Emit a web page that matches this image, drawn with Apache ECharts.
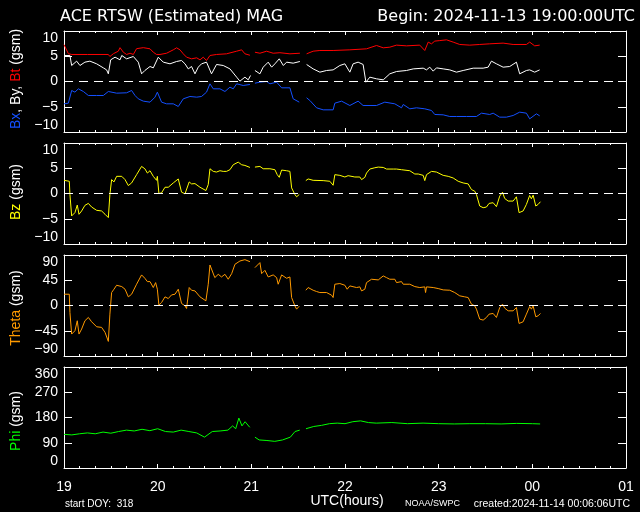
<!DOCTYPE html>
<html><head><meta charset="utf-8">
<script src="https://cdn.jsdelivr.net/npm/echarts@6/dist/echarts.min.js"></script>
<style>html,body{margin:0;padding:0;background:#000}#c{width:640px;height:512px}</style>
</head><body><div id="c"></div><script>
// time in minutes after 19:00 UTC, values in nT / degrees; null = data gap
const hourLabels = ['19','20','21','22','23','00','01'];
const bt = [[0,7.3],[2.8,5.5],[5,5.35],[15,5.35],[25,5.35],[28.4,5.35],[29.4,4.95],[31.6,5.5],[34.8,6.0],[35.9,6.7],[38,5.8],[40.1,5.35],[42.3,5.6],[44.4,5.35],[46.5,6.5],[50.8,6.7],[55.1,6.47],[57.2,5.8],[59.3,5.35],[61.5,5.35],[65.7,5.6],[70,6.27],[72.1,6.67],[74.3,6.27],[76.4,5.48],[78.5,4.82],[81.7,4.49],[85,4.69],[87.1,4.29],[89.2,4.82],[91.3,4.16],[93.5,5.15],[97.7,5.35],[104.1,5.48],[110.6,6.0],[113.8,6.27],[115.9,5.48],[119.1,5.2],[121,null],[122.3,5.8],[125.5,5.6],[129.8,6.0],[134,5.6],[138.3,5.7],[144.7,5.48],[151.1,5.6],[153,null],[155.4,5.48],[159.6,6.0],[163.9,6.14],[172.4,6.14],[183.1,6.27],[193.8,6.47],[200.2,7.13],[204.5,6.67],[208.7,6.8],[213,7.2],[219.4,7.06],[227.9,7.2],[231.1,6.14],[233.3,7.8],[235.4,7.46],[237.5,8.0],[240.7,8.1],[245,8.25],[249.3,7.8],[253.5,7.33],[259.9,7.2],[266.3,7.33],[272.7,7.46],[281.3,7.6],[287.7,7.33],[296.2,7.33],[298.3,7.8],[301.5,7.06],[304.7,7.2]];
const by = [[0,5.15],[3.8,5.15],[4.9,3.17],[8.1,4.03],[10.2,3.17],[13.4,3.83],[16.6,4.03],[20.9,3.5],[25.2,2.7],[27.3,2.3],[28.4,1.52],[29.9,4.29],[32.7,4.82],[35.9,4.29],[37,5.15],[40.1,4.49],[44.4,4.95],[47.6,3.83],[49.7,1.52],[51.8,2.18],[55.1,2.97],[57.2,2.7],[60.4,4.82],[63.6,3.83],[67.9,3.5],[72.1,3.96],[75.3,4.16],[77.5,3.5],[79.6,2.5],[81.7,2.97],[83.9,1.52],[86,2.84],[88.1,3.5],[91.3,3.83],[94.5,1.52],[97.7,3.37],[102,3.17],[106.3,2.5],[110.6,0.86],[112.7,0.07],[115.9,0.86],[118,0.33],[119.5,1.19],[121,null],[122.3,2.18],[125.5,1.52],[127.6,2.84],[130.8,3.83],[133,2.84],[135.1,3.5],[137.9,4.49],[140.5,3.17],[142.6,3.83],[146.8,3.63],[151.1,3.96],[153,null],[155.4,3.37],[159.6,2.5],[163.9,1.85],[168.2,2.18],[172.4,2.3],[176.7,3.17],[179.9,3.5],[183.1,1.85],[185.2,3.5],[188.4,3.83],[191.6,3.37],[193.4,-0.13],[195.9,0.86],[200.2,0.53],[204.5,0.33],[208.7,1.52],[213,1.98],[219.4,2.18],[223.7,2.5],[230.1,2.64],[232.2,2.3],[234.3,2.84],[236.5,2.05],[238.6,2.7],[242.9,2.5],[247.1,2.3],[251.4,1.85],[255.7,2.18],[262.1,2.64],[268.5,2.64],[271.7,2.84],[273.8,4.03],[277,3.5],[281.3,2.84],[285.5,2.97],[289.8,3.83],[291.9,1.52],[296.2,2.18],[298.3,2.3],[301.5,1.85],[304.7,2.3]];
const bx = [[0,-4.42],[2.8,-4.29],[4.9,-1.78],[7,-2.11],[9.2,-1.45],[12.4,-1.98],[15.6,-2.77],[20.9,-2.77],[25.2,-2.77],[28.4,-1.98],[33.7,-2.31],[40.1,-2.24],[43.3,-1.78],[45.5,-2.77],[47.6,-3.43],[50.8,-3.89],[55.1,-4.09],[58.3,-3.1],[59.8,-2.11],[62.5,-4.09],[65.7,-4.42],[70,-4.42],[73.2,-4.95],[76.4,-3.43],[80.7,-2.97],[85,-3.1],[88.1,-2.97],[91.3,-2.11],[93.5,-0.46],[95.6,-1.45],[99.9,-1.45],[103.1,-1.98],[106.3,-1.12],[108.4,-1.45],[110.6,-0.46],[114.8,-0.79],[119.1,-0.59],[121,null],[122.3,-0.33],[125.5,-0.13],[129.8,0],[131.9,-0.46],[136.2,-0.13],[139.4,-1.25],[144.7,-1.25],[146.8,-3.43],[150.7,-4.09],[153,null],[155.4,-3.23],[157.5,-3.76],[161.8,-5.21],[166,-5.61],[172.4,-5.61],[173.5,-4.29],[177.8,-3.89],[183.1,-4.75],[188.4,-3.89],[191.6,-4.75],[200.2,-4.75],[205.5,-4.09],[211.9,-4.42],[216.2,-5.21],[217.3,-4.55],[221.5,-5.41],[225.8,-5.21],[231.1,-5.41],[235.4,-5.74],[237.5,-6.53],[242.9,-6.6],[247.1,-6.93],[251.4,-6.93],[257.8,-6.93],[264.2,-6.93],[267.4,-6.27],[272.7,-6.53],[274.9,-6.27],[279.1,-7.06],[283.4,-7.06],[287.7,-6.73],[291.9,-6.07],[296.2,-6.27],[298.3,-7.39],[302.6,-6.4],[304.7,-6.8]];
const bz = [[0,2.61],[3.4,2.42],[3.8,-0.2],[4.9,-4.44],[6,-4.64],[7,-3.79],[8.5,-2.29],[9.6,-4.12],[11.3,-3.46],[13.4,-2.35],[15.6,-1.96],[17.7,-2.68],[20.9,-3.33],[24.1,-3.46],[26.3,-4.12],[28.4,-4.77],[29.4,-0.2],[30.5,2.75],[32,2.29],[33.7,3.4],[37,3.4],[39.1,2.75],[41.2,1.57],[43.3,2.09],[46.5,3.73],[49.7,5.36],[51.8,4.9],[53.4,4.05],[55.1,4.51],[57.2,3.4],[58.3,3.59],[59.3,2.61],[59.8,3.4],[60.8,0],[62.5,0.13],[64.7,1.24],[66.8,1.24],[67.9,0.92],[70,2.09],[73.2,2.88],[75.3,0.26],[77.5,-0.07],[78.5,-0.39],[80.2,2.29],[81.7,1.9],[83.9,1.96],[87.1,1.24],[90.9,0.59],[92.4,1.76],[93.5,4.9],[95.6,4.38],[97.7,4.25],[99.9,4.51],[102,4.38],[104.1,4.38],[106.3,4.71],[108.4,5.69],[111.6,6.21],[113.8,5.69],[115.9,5.56],[119.1,5.16],[121,null],[122.3,5.23],[125.5,5.36],[127.6,4.9],[131.9,4.9],[135.1,4.71],[136.6,3.73],[137.9,3.2],[139.4,4.64],[142.6,4.51],[144.7,4.38],[145.8,1.11],[147.9,-0.2],[149,-0.65],[150.7,-0.2],[153,null],[154.9,2.55],[156.4,2.88],[159.6,2.61],[166,2.55],[170.3,2.42],[172.4,1.63],[173.5,3.73],[176.7,3.59],[179.9,3.27],[182,3.53],[183.1,3.59],[186.3,3.27],[189.5,3.27],[190.6,2.75],[192.7,3.2],[193.8,4.05],[195.9,4.84],[199.1,5.1],[201.3,5.23],[204.5,5.16],[206.6,4.84],[210.9,4.84],[211.9,5.16],[213,4.84],[216.2,4.71],[217.3,4.38],[221.5,4.51],[224.7,3.86],[226.9,3.86],[230.1,3.59],[231.1,2.55],[232.2,3.73],[235.4,4.38],[238.6,4.25],[242.9,3.59],[246.1,3.4],[249.3,3.07],[252.5,2.42],[255.7,2.09],[258.9,1.9],[261,0.78],[263.1,0.46],[264.2,-0.2],[266.3,-2.48],[268.5,-2.81],[270.6,-2.68],[272.3,-1.96],[274.9,-1.83],[277,-2.61],[279.1,-0.52],[280.9,0.26],[282.3,-0.98],[284.5,-1.5],[287.7,-1.5],[289.8,-0.65],[291.5,-3.79],[294.1,-3.46],[296.2,-2.16],[298.3,-0.39],[299.4,-1.05],[300.5,-0.33],[302.2,-2.48],[303.7,-2.16],[305.2,-1.63]];
const theta = [[0,20.1],[3.4,20.1],[3.8,-12.4],[4.9,-50.9],[6,-53.9],[7,-45],[8.5,-27.2],[9.6,-50.9],[11.3,-42],[13.4,-27.2],[15.6,-21.3],[17.7,-29],[20.9,-37.9],[24.1,-39],[26.3,-48],[28.4,-64],[29.4,-15.4],[30.5,23.1],[32,29],[33.7,36.1],[37,33.7],[38,34.9],[39.1,29],[41.2,15.4],[43.3,20.1],[46.5,37.9],[49.7,54.5],[51.8,48.5],[53.4,42.6],[55.1,42.6],[57.2,32],[58.7,40.8],[59.8,29],[60.8,0.6],[62.5,5.3],[64.7,15.4],[66.8,12.4],[68.9,18.9],[71.1,20.1],[73.2,29],[75.3,3.6],[77.5,-0.6],[78.5,-5.3],[80.2,32],[81.7,27.2],[83.9,26],[87.1,15.4],[90.9,8.3],[92.4,37.9],[93.5,72.2],[94.5,70.4],[96.6,49.7],[98.8,55.6],[100.9,50.9],[103.1,55.6],[105.2,46.8],[107.4,56.8],[109.5,73.4],[112.7,79.3],[115.9,81.7],[119.1,78.1],[121,null],[122.3,67.5],[125.5,76.4],[126.6,56.8],[128.7,62.7],[130.8,50.9],[134,54.5],[136.2,49.7],[137.2,37.9],[138.3,37.9],[139.4,54.5],[142.6,48.5],[144.7,50.9],[145.8,14.2],[147.9,-0.6],[149,-6.5],[150.7,-1.2],[153,null],[154.9,27.2],[156.4,32],[159.6,27.2],[161.8,24.9],[163.9,23.1],[168.2,23.1],[171.4,18.4],[172.4,14.2],[173.5,37.9],[176.7,39.1],[179.9,36.1],[181.4,29],[183.1,34.9],[187.4,32],[189.5,33.2],[190.6,26],[192.7,29],[193.8,40.8],[197,46.8],[201.3,45.6],[204.5,52.7],[206.6,49.7],[208.7,46.8],[211.9,46.8],[213,40.8],[216.2,42.6],[217.3,37.9],[221.5,37.9],[224.7,33.7],[227.9,32],[231.1,33.2],[231.6,23.1],[232.2,33.2],[236.5,32],[239.7,30.2],[242.9,27.8],[247.1,27.2],[250.3,23.1],[253.5,17.2],[256.7,15.4],[258.9,14.2],[261,2.4],[263.1,-0.6],[264.2,-6.5],[266.3,-24.3],[268.5,-26],[270.6,-21.3],[272.3,-15.4],[274.9,-14.2],[277,-21.3],[279.1,-3.6],[280.9,2.4],[282.3,-4.7],[284.5,-9.5],[287.7,-9.5],[289.8,-3.6],[291.5,-32],[294.1,-29],[296.2,-15.4],[298.3,-1.8],[299.4,-6.5],[300.5,-0.6],[302.2,-20.1],[303.7,-18.4],[305.2,-14.2]];
const phi = [[0,120],[5,118],[10,122],[15,125],[20,122],[25,128],[30,124],[35,130],[40,135],[45,132],[50,138],[55,133],[60,140],[65,130],[70,128],[75,135],[80,130],[85,125],[90,110],[95,130],[100,132],[105,135],[108,150],[110,140],[112,178],[114,150],[116,165],[119,145],[121,null],[122.3,110],[125,100],[130,98],[135,95],[140,100],[145,110],[148,130],[151,135],[153,null],[155,140],[160,148],[165,152],[170,158],[175,160],[180,158],[185,165],[190,168],[195,162],[200,160],[210,162],[220,158],[230,160],[240,158],[250,157],[260,158],[270,158],[280,157],[290,159],[300,158],[305,157]];

const FONT = 'Liberation Sans';
const layout = [
  {top:31, min:-10, max:10, interval:5},
  {top:143, min:-10, max:10, interval:5},
  {top:255, min:-90, max:90, interval:45},
  {top:367, min:0, max:360, interval:90}
];
const W = '#ffffff';
const grids = [], xAxes = [], yAxes = [];
layout.forEach((p, i) => {
  grids.push({left:64, top:p.top, width:562, height:101, show:false});
  const xBase = {type:'value', gridIndex:i, min:0, max:360, interval:60,
    axisLine:{show:true, onZero:false, lineStyle:{color:W, width:1}},
    axisTick:{show:true, inside:true, length:4, lineStyle:{color:W}},
    minorTick:{show:true, splitNumber:6, length:2, lineStyle:{color:W}},
    splitLine:{show:false}, minorSplitLine:{show:false}};
  xAxes.push(Object.assign({}, xBase, {position:'bottom',
    axisLabel:{show:i===3, color:W, fontSize:14, fontFamily:FONT, margin:12, showMinLabel:true, showMaxLabel:true,
      formatter: v => hourLabels[Math.round(v/60)]}}));
  xAxes.push(Object.assign({}, xBase, {position:'top', axisLabel:{show:false}}));
  const yBase = {type:'value', gridIndex:i, min:p.min, max:p.max, interval:p.interval,
    axisLine:{show:true, onZero:false, lineStyle:{color:W, width:1}},
    axisTick:{show:true, inside:true, length:8, lineStyle:{color:W}},
    splitLine:{show:false}};
  yAxes.push(Object.assign({}, yBase, {position:'left',
    axisLabel:{show:true, color:W, fontSize:14, fontFamily:FONT, margin:6, showMinLabel:true, showMaxLabel:true,
      verticalAlignMinLabel:'bottom', verticalAlignMaxLabel:'top',
      formatter: v => String(v).replace('-', '\u2212')}}));
  yAxes.push(Object.assign({}, yBase, {position:'right', axisLabel:{show:false}}));
});

const zeroLine = {silent:true, symbol:'none', animation:false, label:{show:false},
  lineStyle:{color:W, type:[9,6], width:1}, data:[{yAxis:0}]};
function line(data, color, gi, mark) {
  const s = {type:'line', data:data, xAxisIndex:gi*2, yAxisIndex:gi*2, showSymbol:false, symbol:'none',
    lineStyle:{color:color, width:1}, itemStyle:{color:color}, connectNulls:false, animation:false, silent:true};
  if (mark) s.markLine = zeroLine;
  return s;
}
const series = [
  line(bt, '#ff0000', 0, true),
  line(by, '#ffffff', 0, false),
  line(bx, '#1450ff', 0, false),
  line(bz, '#ffff00', 1, true),
  line(theta, '#ff9a00', 2, true),
  line(phi, '#00ff00', 3, false)
];

function vText(x, y, text, rich) {
  return {type:'text', x:x, y:y, rotation:Math.PI/2, silent:true,
    style:{text:text, rich:rich, font:'14px ' + FONT, fill:W, align:'center', verticalAlign:'middle'}};
}
const graphic = [
  {type:'text', x:60, y:17, silent:true, style:{text:'ACE RTSW (Estimated) MAG', fill:W, font:'16px DejaVu Sans', align:'left', verticalAlign:'middle'}},
  {type:'text', x:635, y:17, silent:true, style:{text:'Begin: 2024-11-13 19:00:00UTC', fill:W, font:'16px DejaVu Sans', align:'right', verticalAlign:'middle'}},
  vText(16, 79, '{b|Bx}{w|, By, }{r|Bt}{w| (gsm)}', {b:{fill:'#1450ff', font:'14px '+FONT}, w:{fill:W, font:'14px '+FONT}, r:{fill:'#ff0000', font:'14px '+FONT}}),
  vText(16, 192, '{y|Bz}{w| (gsm)}', {y:{fill:'#ffff00', font:'14px '+FONT}, w:{fill:W, font:'14px '+FONT}}),
  vText(16, 308, '{o|Theta}{w| (gsm)}', {o:{fill:'#ff9a00', font:'14px '+FONT}, w:{fill:W, font:'14px '+FONT}}),
  vText(16, 421, '{g|Phi}{w| (gsm)}', {g:{fill:'#00ff00', font:'14px '+FONT}, w:{fill:W, font:'14px '+FONT}}),
  {type:'text', x:65, y:504, silent:true, style:{text:'start DOY:  318', fill:W, font:'10px '+FONT, align:'left', verticalAlign:'middle'}},
  {type:'text', x:347, y:501, silent:true, style:{text:'UTC(hours)', fill:W, font:'14px '+FONT, align:'center', verticalAlign:'middle'}},
  {type:'text', x:405, y:504, silent:true, style:{text:'NOAA/SWPC', fill:W, font:'9px '+FONT, align:'left', verticalAlign:'middle'}},
  {type:'text', x:630, y:504, silent:true, style:{text:'created:2024-11-14 00:06:06UTC', fill:W, font:'10.5px '+FONT, align:'right', verticalAlign:'middle'}}
];

const chart = echarts.init(document.getElementById('c'), null, {renderer:'canvas'});
chart.setOption({
  backgroundColor:'#000000',
  animation:false,
  grid:grids, xAxis:xAxes, yAxis:yAxes, series:series, graphic:graphic
});
</script></body></html>
